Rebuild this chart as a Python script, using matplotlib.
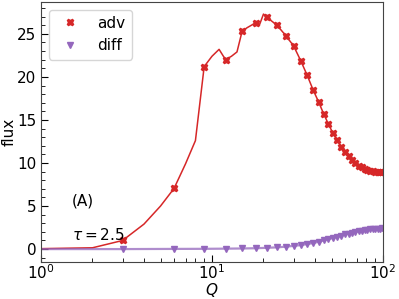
import matplotlib
matplotlib.use("Agg")
import matplotlib.pyplot as plt
import numpy as np

# line (theory) data
q_line = list(range(1, 22)) + list(range(24, 100, 3))
adv_line = [0.05, 0.15, 1.0, 2.9, 5.0, 7.05, 9.9, 12.6, 21.2, 22.4, 23.2, 22.0, 22.4, 22.9,
            25.3, 25.7, 26.0, 26.3, 26.1, 27.3, 26.9,
            26.0, 24.8, 23.6, 21.9, 20.2, 18.5, 17.1, 15.7, 14.5, 13.45, 12.65, 11.9, 11.3,
            10.8, 10.35, 10.0, 9.7, 9.5, 9.35, 9.22, 9.12, 9.05, 9.0, 8.95, 8.92, 8.9]

# marker data
q_pts = list(range(3, 100, 3))
adv_pts = [1.0, 7.05, 21.2, 22.0, 25.3, 26.3, 26.9, 26.0, 24.8, 23.6, 21.9, 20.2, 18.5,
           17.1, 15.7, 14.5, 13.45, 12.65, 11.9, 11.3, 10.8, 10.35, 10.0, 9.7, 9.5, 9.35,
           9.22, 9.12, 9.05, 9.0, 8.95, 8.92, 8.9]
diff_pts = [0.0, 0.02, 0.03, 0.05, 0.07, 0.1, 0.15, 0.2, 0.28, 0.37, 0.46, 0.58, 0.7,
            0.85, 1.0, 1.15, 1.3, 1.44, 1.57, 1.7, 1.81, 1.91, 1.99, 2.07, 2.13, 2.19,
            2.24, 2.28, 2.31, 2.34, 2.37, 2.39, 2.41]
q_diff_line = [1, 2] + q_pts
diff_line = [0.0, 0.0] + diff_pts

red = '#d62728'
purple = '#9467bd'

fig = plt.figure(figsize=(3.99, 2.99), dpi=100)
ax = fig.add_axes([41/399, (299-262)/299, (383-41)/399, (262-2)/299])

ax.plot(q_line, adv_line, color=red, lw=1.1)
ax.plot(q_diff_line, diff_line, color=purple, lw=1.6, alpha=0.75)
ax.plot(q_pts, adv_pts, ls='none', marker='X', ms=4.5, color=red, label='adv')
ax.plot(q_pts, diff_pts, ls='none', marker='v', ms=4.5, color=purple, label='diff')

ax.set_xscale('log')
ax.set_xlim(1, 100)
ax.set_ylim(-1.5, 28.7)
ax.set_yticks([0, 5, 10, 15, 20, 25])
ax.yaxis.set_minor_locator(matplotlib.ticker.MultipleLocator(1))
ax.tick_params(which='both', direction='in', labelsize=11)
ax.tick_params(which='major', length=5)
ax.tick_params(which='minor', length=3)
ax.tick_params(axis='x', which='both', pad=1.0)
for s in ax.spines.values():
    s.set_color('#444444')

ax.set_xlabel('$Q$', fontsize=11, labelpad=-0.5)
ax.set_ylabel('flux', fontsize=11, labelpad=0)

ax.text(1.52, 5.6, '(A)', fontsize=11, va='center')
ax.text(1.52, 1.6, r'$\tau=2.5$', fontsize=11, va='center')

ax.legend(loc='upper left', fontsize=11)

fig.savefig('out.png', dpi=100)
